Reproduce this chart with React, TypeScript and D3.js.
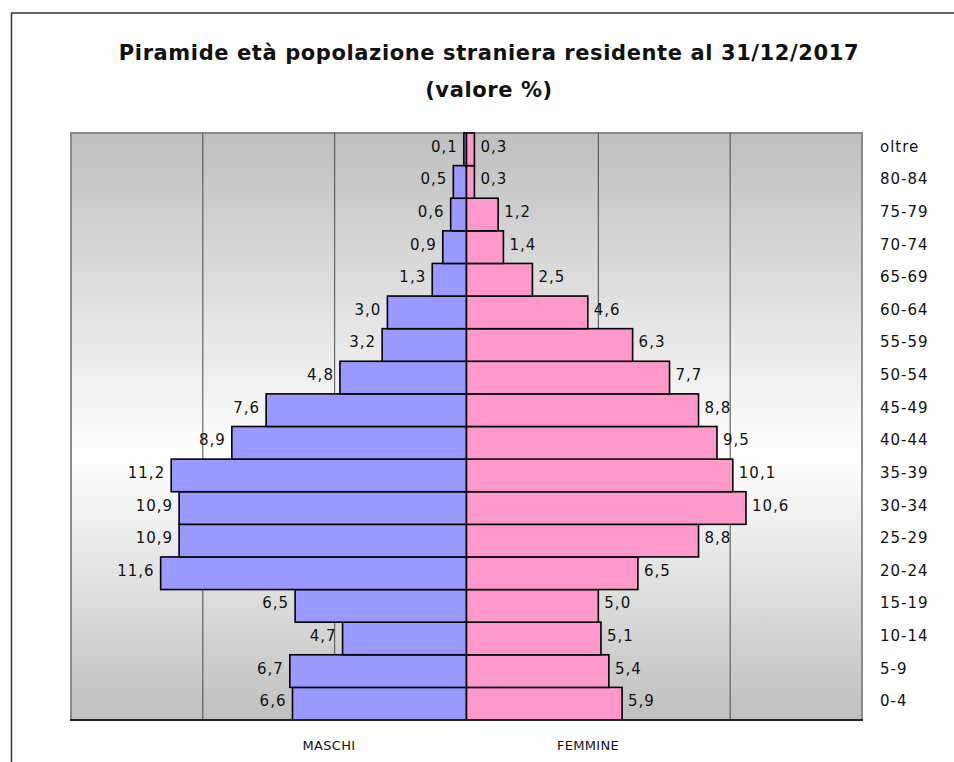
import React from 'react';
import * as d3 from 'd3';

// age classes, bottom to top
const ageGroups = ['0-4', '5-9', '10-14', '15-19', '20-24', '25-29', '30-34', '35-39', '40-44', '45-49', '50-54', '55-59', '60-64', '65-69', '70-74', '75-79', '80-84', 'oltre'];
const maschi = [6.6, 6.7, 4.7, 6.5, 11.6, 10.9, 10.9, 11.2, 8.9, 7.6, 4.8, 3.2, 3.0, 1.3, 0.9, 0.6, 0.5, 0.1];
const femmine = [5.9, 5.4, 5.1, 5.0, 6.5, 8.8, 10.6, 10.1, 9.5, 8.8, 7.7, 6.3, 4.6, 2.5, 1.4, 1.2, 0.3, 0.3];
const gridTicks = [-15, -10, -5, 0, 5, 10, 15];
const titleLines = ['Piramide età popolazione straniera residente al 31/12/2017', '(valore %)'];
const seriesNames = ['MASCHI', 'FEMMINE'];

const W = 954;
const H = 762;
const plot = { left: 71, right: 862, top: 133, bottom: 720 };
const FONT = '"DejaVu Sans", Verdana, sans-serif';

const fmt = (v: number) => d3.format('.1f')(v).replace('.', ',');

export default function App() {
    const x = d3.scaleLinear().domain([-15, 15]).range([plot.left, plot.right]);
    const y = d3.scaleBand<string>()
        .domain([...ageGroups].reverse())
        .range([plot.top, plot.bottom])
        .padding(0);
    const bw = y.bandwidth();
    const x0 = x(0);

    return (
        <svg width={W} height={H} style={{ position: 'fixed', left: 0, top: 0, background: '#fff' }}>
            <defs>
                <linearGradient id="bg" x1="0" y1="0" x2="0" y2="1">
                    <stop offset="0%" stopColor="#bfbfbf" />
                    <stop offset="55%" stopColor="#ffffff" />
                    <stop offset="100%" stopColor="#bfbfbf" />
                </linearGradient>
            </defs>

            {/* outer frame, open past the window */}
            <rect x={11.5} y={13} width={W + 20} height={H + 20} fill="none" stroke="#333" strokeWidth={1.5} />

            {/* title */}
            {titleLines.map((t, i) => (
                <text key={t} x={489} y={60 + i * 37} textAnchor="middle" fontFamily={FONT}
                    fontWeight="bold" fontSize={21} letterSpacing={0.6} fill="#111">{t}</text>
            ))}

            {/* plot area */}
            <rect x={plot.left} y={plot.top} width={plot.right - plot.left} height={plot.bottom - plot.top}
                fill="url(#bg)" stroke="#8a8a8a" strokeWidth={2} />

            {gridTicks.slice(1, -1).map(t => (
                <line key={t} x1={x(t)} x2={x(t)} y1={plot.top} y2={plot.bottom} stroke="#4a4a4a" strokeWidth={1} />
            ))}

            {/* bars */}
            {ageGroups.map((g, i) => (
                <g key={g}>
                    <rect x={x(-maschi[i])} y={y(g)} width={x0 - x(-maschi[i])} height={bw}
                        fill="#9999ff" stroke="#000" strokeWidth={1.6} />
                    <rect x={x0} y={y(g)} width={x(femmine[i]) - x0} height={bw}
                        fill="#ff99cc" stroke="#000" strokeWidth={1.6} />
                </g>
            ))}

            <line x1={plot.left - 1} x2={plot.right + 1} y1={plot.bottom} y2={plot.bottom} stroke="#222" strokeWidth={2} />

            {/* value labels */}
            {ageGroups.map((g, i) => {
                const cy = (y(g) ?? 0) + bw / 2 + 2.5;
                return (
                    <g key={'l' + g} fontFamily={FONT} fontSize={15} letterSpacing={1} fill="#111">
                        <text x={x(-maschi[i]) - 6} y={cy} textAnchor="end">{fmt(maschi[i])}</text>
                        <text x={x(femmine[i]) + 6} y={cy}>{fmt(femmine[i])}</text>
                        <text x={880} y={cy}>{g}</text>
                    </g>
                );
            })}

            {/* series names */}
            {seriesNames.map((s, i) => (
                <text key={s} x={i === 0 ? 329 : 588} y={750} textAnchor="middle" fontFamily={FONT}
                    fontSize={13} letterSpacing={0.3} fill="#111">{s}</text>
            ))}
        </svg>
    );
}
